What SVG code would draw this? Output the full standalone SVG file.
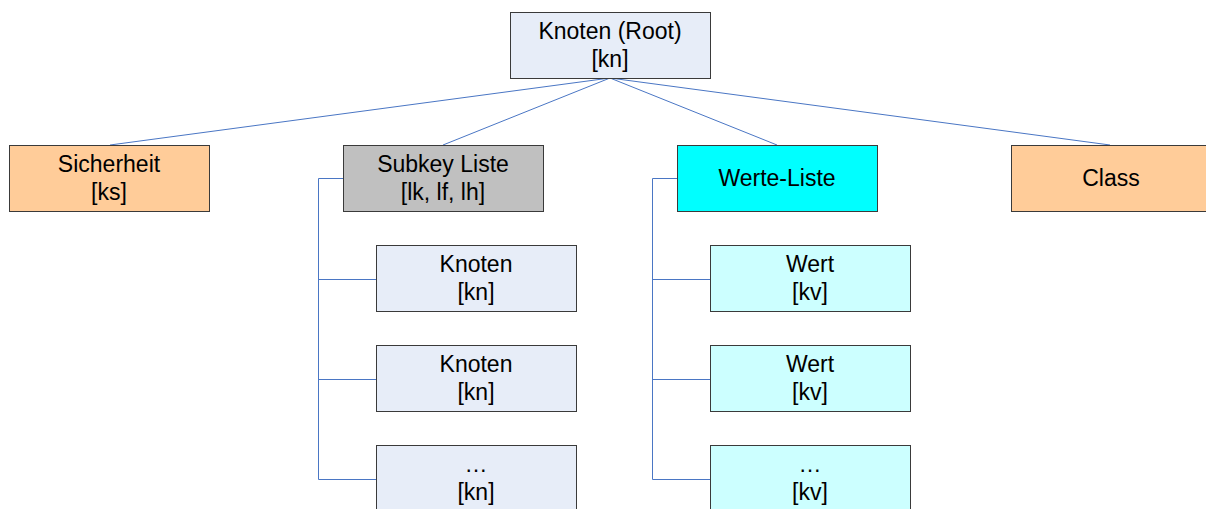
<svg xmlns="http://www.w3.org/2000/svg" width="1206" height="509" viewBox="0 0 1206 509">
  <style>
    .box { stroke: #3a3a3a; stroke-width: 1; }
    .kn { fill: #e7edf8; }
    .org { fill: #ffcc99; }
    .grey { fill: #c0c0c0; }
    .cyan { fill: #00ffff; }
    .lcyan { fill: #ccffff; }
    text { font-family: "Liberation Sans", Arial, sans-serif; font-size: 23px; fill: #000; text-anchor: middle; }
    .conn { stroke: #4a76c4; stroke-width: 1; fill: none; }
  </style>
  <rect width="1206" height="509" fill="#ffffff"/>

  <!-- connectors -->
  <g id="connectors">
    <line class="conn" x1="610" y1="78" x2="110" y2="145"/>
    <line class="conn" x1="610" y1="78" x2="443" y2="145"/>
    <line class="conn" x1="610" y1="78" x2="777" y2="145"/>
    <line class="conn" x1="610" y1="78" x2="1110" y2="145"/>
    <polyline class="conn" points="343,178.5 318.5,178.5 318.5,479.5 376,479.5"/>
    <line class="conn" x1="318.5" y1="279.5" x2="376" y2="279.5"/>
    <line class="conn" x1="318.5" y1="379.5" x2="376" y2="379.5"/>
    <polyline class="conn" points="677,178.5 652.5,178.5 652.5,479.5 710,479.5"/>
    <line class="conn" x1="652.5" y1="279.5" x2="710" y2="279.5"/>
    <line class="conn" x1="652.5" y1="379.5" x2="710" y2="379.5"/>
  </g>

  <g id="root">
    <rect class="box kn" x="510.5" y="12.5" width="200" height="66"/>
    <text x="610" y="39">Knoten (Root)</text>
    <text x="610" y="67">[kn]</text>
  </g>

  <g id="sicherheit">
    <rect class="box org" x="9.5" y="145.5" width="200" height="66"/>
    <text x="109" y="172">Sicherheit</text>
    <text x="109" y="200">[ks]</text>
  </g>

  <g id="subkey-liste">
    <rect class="box grey" x="343.5" y="145.5" width="200" height="66"/>
    <text x="443" y="172">Subkey Liste</text>
    <text x="443" y="200">[lk, lf, lh]</text>
  </g>

  <g id="werte-liste">
    <rect class="box cyan" x="677.5" y="145.5" width="200" height="66"/>
    <text x="777" y="186">Werte-Liste</text>
  </g>

  <g id="class">
    <rect class="box org" x="1011.5" y="145.5" width="200" height="66"/>
    <text x="1111" y="186">Class</text>
  </g>

  <g id="knoten-1">
    <rect class="box kn" x="376.5" y="245.5" width="200" height="66"/>
    <text x="476" y="272">Knoten</text>
    <text x="476" y="300">[kn]</text>
  </g>

  <g id="knoten-2">
    <rect class="box kn" x="376.5" y="345.5" width="200" height="66"/>
    <text x="476" y="372">Knoten</text>
    <text x="476" y="400">[kn]</text>
  </g>

  <g id="knoten-3">
    <rect class="box kn" x="376.5" y="445.5" width="200" height="66"/>
    <text x="476" y="472">…</text>
    <text x="476" y="500">[kn]</text>
  </g>

  <g id="wert-1">
    <rect class="box lcyan" x="710.5" y="245.5" width="200" height="66"/>
    <text x="810" y="272">Wert</text>
    <text x="810" y="300">[kv]</text>
  </g>

  <g id="wert-2">
    <rect class="box lcyan" x="710.5" y="345.5" width="200" height="66"/>
    <text x="810" y="372">Wert</text>
    <text x="810" y="400">[kv]</text>
  </g>

  <g id="wert-3">
    <rect class="box lcyan" x="710.5" y="445.5" width="200" height="66"/>
    <text x="810" y="472">…</text>
    <text x="810" y="500">[kv]</text>
  </g>
</svg>
